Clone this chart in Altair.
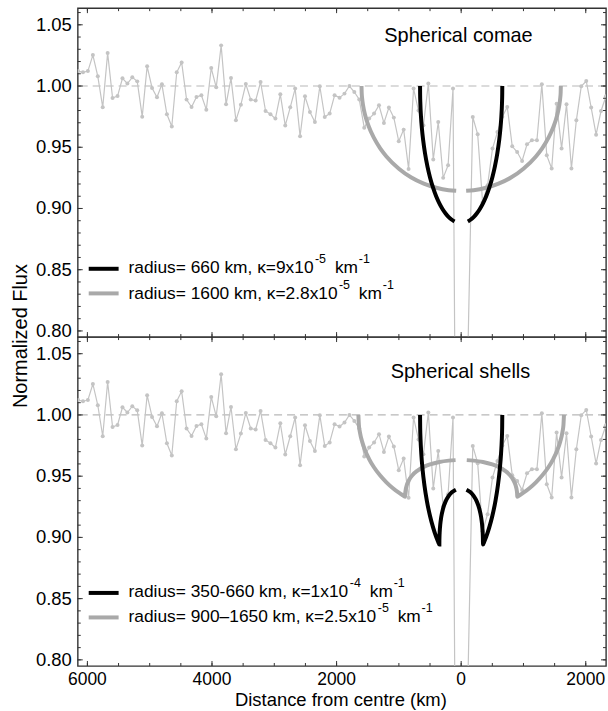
import altair as alt
import pandas as pd

# ---------------- data ----------------
distance_km = [
    -6150, -6071, -5992, -5912, -5833, -5754, -5675, -5596, -5516, -5437,
    -5358, -5279, -5200, -5120, -5041, -4962, -4883, -4804, -4724, -4645,
    -4566, -4487, -4408, -4328, -4249, -4170, -4091, -4012, -3932, -3853,
    -3774, -3695, -3616, -3536, -3457, -3378, -3299, -3220, -3140, -3061,
    -2982, -2903, -2824, -2744, -2665, -2586, -2507, -2428, -2348, -2269,
    -2190, -2111, -2032, -1952, -1873, -1794, -1715, -1636, -1556, -1477,
    -1398, -1319, -1240, -1160, -1081, -1002, -923, -844, -764, -685,
    -606, -527, -448, -368, -289, -210, -131, -52, 28, 107,
    186, 265, 344, 424, 503, 582, 661, 740, 820, 899,
    978, 1057, 1136, 1216, 1295, 1374, 1453, 1532, 1612, 1691,
    1770, 1849, 1928, 2008, 2087, 2166, 2245, 2324,
]
normalized_flux = [
    1.0122, 1.0112, 1.0122, 1.0253, 1.0079, 0.9826, 1.0269, 0.9902, 0.9918, 1.0063,
    1.0020, 1.0071, 1.0038, 0.9750, 1.0161, 0.9984, 0.9908, 1.0014, 0.9769, 0.9669,
    1.0112, 1.0193, 0.9889, 0.9829, 0.9910, 0.9924, 0.9807, 1.0147, 0.9989, 1.0332,
    0.9851, 1.0065, 0.9720, 0.9848, 1.0016, 0.9889, 0.9881, 1.0033, 0.9796, 0.9769,
    0.9734, 0.9932, 0.9677, 0.9826, 0.9979, 0.9590, 0.9916, 0.9788, 0.9706, 0.9998,
    0.9747, 0.9775, 0.9924, 0.9905, 0.9938, 1.0000, 0.9951, 0.9890, 0.9660, 0.9734,
    0.9775, 0.9843, 0.9698, 0.9824, 0.9742, 0.9549, 0.9644, 0.9323, 0.9979, 0.9800,
    0.9680, 1.0020, 0.9400, 0.9706, 0.9250, 0.9353, 0.9979, 0.4000, 0.4000, 0.7800,
    0.9747, 0.9606, 0.9050, 0.9190, 0.9489, 0.9624, 0.9750, 0.9829, 0.9508, 0.9461,
    0.9388, 0.9524, 0.9557, 0.9557, 1.0014, 0.9434, 0.9326, 0.9856, 0.9489, 0.9851,
    0.9326, 0.9720, 0.9998, 1.0041, 0.9824, 0.9603, 0.9796, 0.9916,
]

# model curves (impact parameter in km, normalized flux), mirrored left/right
comae_small_b = [107, 150, 200, 250, 300, 350, 400, 450, 500, 540, 580, 610, 630, 645, 655, 659, 660]
comae_small_f = [0.8894, 0.8908, 0.8930, 0.8959, 0.8996, 0.9042, 0.9098, 0.9168, 0.9254, 0.9340,
                 0.9449, 0.9557, 0.9652, 0.9751, 0.9855, 0.9935, 1.0]
comae_large_b = [80, 200, 400, 600, 800, 1000, 1200, 1300, 1400, 1480, 1540, 1575, 1590, 1597, 1600]
comae_large_f = [0.9144, 0.9149, 0.9169, 0.9203, 0.9253, 0.9325, 0.9425, 0.9491, 0.9576, 0.9665,
                 0.9760, 0.9843, 0.9901, 0.9945, 1.0]
shell_small_b = [85, 150, 200, 250, 290, 320, 335, 345, 348, 349.5, 350, 370, 400, 450, 500, 550,
                 590, 620, 640, 652, 658, 660]
shell_small_f = [0.9389, 0.9368, 0.9339, 0.9294, 0.9237, 0.9166, 0.9108, 0.9042, 0.9006, 0.8974,
                 0.8941, 0.8965, 0.9003, 0.9080, 0.9175, 0.9296, 0.9426, 0.9558, 0.9683, 0.9797,
                 0.9898, 1.0]
shell_large_b = [90, 200, 350, 500, 600, 700, 780, 840, 875, 893, 898, 900, 950, 1000, 1100, 1200,
                 1300, 1400, 1480, 1540, 1590, 1625, 1642, 1650]
shell_large_f = [0.9631, 0.9627, 0.9616, 0.9596, 0.9576, 0.9546, 0.9510, 0.9466, 0.9423, 0.9382,
                 0.9359, 0.9332, 0.9348, 0.9365, 0.9404, 0.9450, 0.9505, 0.9573, 0.9642, 0.9708,
                 0.9782, 0.9858, 0.9919, 1.0]

y_major_ticks = [0.80, 0.85, 0.90, 0.95, 1.00, 1.05]
y_tick_labels = ["0.80", "0.85", "0.90", "0.95", "1.00", "1.05"]
y_minor_ticks = [0.80, 0.81, 0.82, 0.83, 0.84, 0.85, 0.86, 0.87, 0.88, 0.89, 0.90, 0.91, 0.92,
                 0.93, 0.94, 0.95, 0.96, 0.97, 0.98, 0.99, 1.00, 1.01, 1.02, 1.03, 1.04, 1.05, 1.06]
x_major_ticks = [-6000, -4000, -2000, 0, 2000]
x_tick_labels = ["6000", "4000", "2000", "0", "2000"]
x_minor_ticks = [-6000, -5500, -5000, -4500, -4000, -3500, -3000, -2500, -2000, -1500, -1000,
                 -500, 0, 500, 1000, 1500, 2000]
reference_level = [1.0]

# ---------------- styling ----------------
W, H = 530, 330
FONT = "Liberation Sans"
FRAME = "#333333"
DATA_GRAY = "#c4c4c4"
MODEL_GRAY = "#a9a9a9"
LEG = 17.4   # legend text size
SUP = 12.5   # superscript size

xscale = alt.Scale(domain=[-6155, 2325], nice=False, zero=False)
yscale = alt.Scale(domain=[0.795, 1.0636], nice=False, zero=False)

obs = pd.DataFrame({"d": distance_km, "f": normalized_flux})
ONE = pd.DataFrame({"_": [0]})


def model_frame(b, f):
    left = pd.DataFrame({"d": [-v for v in b], "f": f, "side": "left"})
    right = pd.DataFrame({"d": list(b), "f": f, "side": "right"})
    return pd.concat([left, right], ignore_index=True)


def curve(b, f, color):
    return alt.Chart(model_frame(b, f)).mark_line(
        color=color, strokeWidth=4, interpolate="monotone", clip=True
    ).encode(
        x=alt.X("d:Q", scale=xscale, axis=None),
        y=alt.Y("f:Q", scale=yscale, axis=None),
        detail="side:N",
    )


def label(text, x, y, size, align="left", baseline="alphabetic", angle=0):
    return alt.Chart(ONE).mark_text(
        text=text, align=align, baseline=baseline, fontSize=size, font=FONT,
        color="black", angle=angle
    ).encode(x=alt.value(x), y=alt.value(y))


def swatch(y, color):
    return alt.Chart(ONE).mark_rule(color=color, strokeWidth=4).encode(
        x=alt.value(11), x2=alt.value(41), y=alt.value(y)
    )


def legend_row(base, sup1, sup2, y, xs):
    # xs: x positions of superscript 1, "km", superscript 2
    return [
        label(base, 51, y, LEG),
        label(sup1, xs[0], y - 10, SUP),
        label("km", xs[1], y, LEG),
        label(sup2, xs[2], y - 10, SUP),
    ]


def frame_layers(with_x_labels):
    layers = []
    for vals, ln in ((y_minor_ticks, 3), (y_major_ticks, 5)):
        df = pd.DataFrame({"v": vals})
        layers.append(alt.Chart(df).mark_rule(color=FRAME, strokeWidth=1).encode(
            y=alt.Y("v:Q", scale=yscale, axis=None), x=alt.value(0), x2=alt.value(ln)))
        layers.append(alt.Chart(df).mark_rule(color=FRAME, strokeWidth=1).encode(
            y=alt.Y("v:Q", scale=yscale, axis=None), x=alt.value(W - ln), x2=alt.value(W)))
    for vals, ln in ((x_minor_ticks, 3), (x_major_ticks, 5)):
        df = pd.DataFrame({"v": vals})
        layers.append(alt.Chart(df).mark_rule(color=FRAME, strokeWidth=1).encode(
            x=alt.X("v:Q", scale=xscale, axis=None), y=alt.value(0), y2=alt.value(ln)))
        layers.append(alt.Chart(df).mark_rule(color=FRAME, strokeWidth=1).encode(
            x=alt.X("v:Q", scale=xscale, axis=None), y=alt.value(H - ln), y2=alt.value(H)))
    ylab = pd.DataFrame({"v": y_major_ticks, "lab": y_tick_labels})
    layers.append(alt.Chart(ylab).mark_text(
        align="right", baseline="middle", fontSize=18.5, font=FONT, color="black"
    ).encode(y=alt.Y("v:Q", scale=yscale, axis=None), x=alt.value(-6), text="lab:N"))
    if with_x_labels:
        xlab = pd.DataFrame({"v": x_major_ticks, "lab": x_tick_labels})
        layers.append(alt.Chart(xlab).mark_text(
            align="center", baseline="alphabetic", fontSize=17.5, font=FONT, color="black"
        ).encode(x=alt.X("v:Q", scale=xscale, axis=None), y=alt.value(H + 19.5), text="lab:N"))
        layers.append(label("Distance from centre (km)", 264, H + 40, 18.5, align="center"))
    return layers


def data_layers():
    dash = alt.Chart(pd.DataFrame({"level": reference_level})).mark_rule(
        color="#b8b8b8", strokeWidth=1.2, strokeDash=[8, 5]
    ).encode(y=alt.Y("level:Q", scale=yscale, axis=None))
    line = alt.Chart(obs).mark_line(color=DATA_GRAY, strokeWidth=1.2, clip=True).encode(
        x=alt.X("d:Q", scale=xscale, axis=None),
        y=alt.Y("f:Q", scale=yscale, axis=None),
    )
    pts = alt.Chart(obs).mark_circle(color=DATA_GRAY, size=16, opacity=1, clip=True).encode(
        x=alt.X("d:Q", scale=xscale, axis=None),
        y=alt.Y("f:Q", scale=yscale, axis=None),
    )
    return [dash, line, pts]


# ---------------- top panel: spherical comae ----------------
top = alt.layer(
    *data_layers(),
    curve(comae_large_b, comae_large_f, MODEL_GRAY),
    curve(comae_small_b, comae_small_f, "black"),
    *frame_layers(False),
    label("Spherical comae", 382, 34, 20, align="center"),
    swatch(261.5, "black"),
    *legend_row("radius= 660 km, \u03ba=9x10", "-5", "-1", 265.5, (238, 258, 282)),
    swatch(286.2, MODEL_GRAY),
    *legend_row("radius= 1600 km, \u03ba=2.8x10", "-5", "-1", 292, (262, 282, 306)),
    label("Normalized Flux", -57, 329, 20, align="center", baseline="middle", angle=270),
).properties(width=W, height=H)

# ---------------- bottom panel: spherical shells ----------------
bottom = alt.layer(
    *data_layers(),
    curve(shell_large_b, shell_large_f, MODEL_GRAY),
    curve(shell_small_b, shell_small_f, "black"),
    *frame_layers(True),
    label("Spherical shells", 384, 41, 20, align="center"),
    swatch(256.7, "black"),
    *legend_row("radius= 350-660 km, \u03ba=1x10", "-4", "-1", 260.7, (273, 293, 317)),
    swatch(281.3, MODEL_GRAY),
    *legend_row("radius= 900\u20131650 km, \u03ba=2.5x10", "-5", "-1", 286.3, (301, 321, 345)),
).properties(width=W, height=H)

chart = alt.vconcat(top, bottom, spacing=0, bounds="flush").properties(
    padding={"left": 10, "top": 5, "right": 0, "bottom": 0},
    background="white",
).configure_view(stroke=FRAME, strokeWidth=1.4)

chart.save("out.html", embed_options={"renderer": "svg", "actions": False})
